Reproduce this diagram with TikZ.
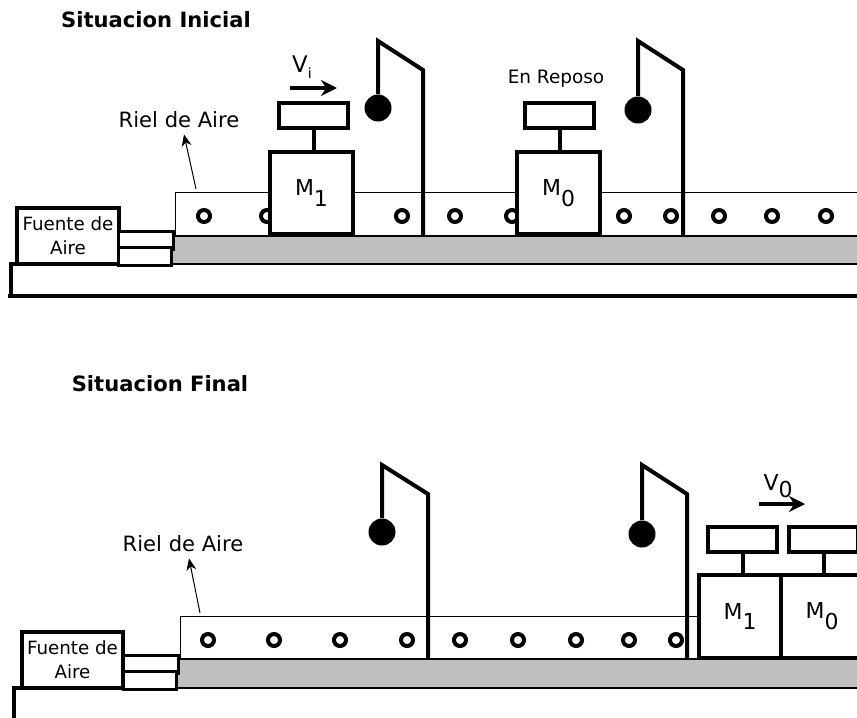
\documentclass[tikz,border=0pt]{standalone}
\usepackage{fontspec}
\setmainfont{DejaVu Sans}
\usetikzlibrary{arrows.meta}
\newcommand{\subdown}[1]{\raisebox{-0.9ex}{#1}}

\begin{document}
\begin{tikzpicture}[
    x=0.02cm, y=-0.02cm,
    thick line/.style={line width=0.08cm},
    masa/.style={rectangle, draw, fill=white, line width=0.08cm, minimum width=1.66cm, minimum height=1.66cm, inner sep=0pt, font=\fontsize{12.5}{14}\selectfont},
    soporte/.style={rectangle, draw, fill=white, line width=0.08cm, minimum width=1.38cm, minimum height=0.5cm, inner sep=0pt},
    fuente/.style={rectangle, draw, fill=white, line width=0.08cm, minimum width=2.04cm, minimum height=1.12cm, inner sep=0pt, align=center, font=\fontsize{10.4}{13.5}\selectfont},
    tubo/.style={rectangle, draw, fill=white, line width=0.06cm, minimum width=1.1cm, minimum height=0.36cm, inner sep=0pt},
    bola/.style={circle, fill=black, minimum size=0.54cm, inner sep=0pt},
    agujero/.style={circle, draw, fill=white, line width=0.08cm, minimum size=0.24cm, inner sep=0pt},
    etiqueta/.style={font=\fontsize{12}{13}\selectfont},
    titulo/.style={font=\bfseries\fontsize{12}{13}\selectfont},
    flecha/.style={-{Stealth[length=0.32cm,width=0.32cm]}, line width=0.07cm},
    flechita/.style={-{Stealth[length=0.24cm,width=0.2cm]}, line width=0.02cm},
]
\clip (0,0) rectangle (857,717);

% situacion inicial
\node[titulo] (tituloA) at (156,20) {Situacion Inicial};
\fill[black!25] (172,236) rectangle (870,264);
\draw[line width=0.02cm] (175,236) -- (175,192) -- (870,192);
\draw[line width=0.04cm] (172,264) -- (870,264);
\draw[line width=0.05cm] (172,236) -- (870,236);
\draw[line width=0.07cm] (92,264) -- (172,264);
\draw[line width=0.08cm] (11,296) -- (11,264) -- (92,264);
\draw[line width=0.07cm] (8,296) -- (870,296);
\foreach \x in {204,267,402,455,512,624,671,719,772,826} {
    \node[agujero] at (\x,216) {};
}
\node[fuente] (fuenteA) at (68,236) {Fuente de\\Aire};
\node[tubo] (tuboA1) at (146,240) {};
\node[tubo, minimum width=1.06cm] (tuboA2) at (145,256) {};
\node[masa] (m1A) at (311.5,193) {\raisebox{0.8ex}{M\subdown{1}}};
\node[soporte] (sopA1) at (313.5,115.5) {};
\draw[thick line] (sopA1.south) -- (sopA1.south |- m1A.north);
\node[masa] (m0A) at (558.5,193) {\raisebox{0.8ex}{M\subdown{0}}};
\node[soporte] (sopA0) at (559.5,115.5) {};
\draw[thick line] (sopA0.south) -- (sopA0.south |- m0A.north);
\node[bola] (bolaA1) at (378,108) {};
\coordinate (topA1) at (378,41);
\coordinate (codoA1) at (423,70);
\coordinate (pieA1) at (423,236);
\draw[thick line] (bolaA1) -- (topA1) -- (codoA1) -- (pieA1);
\node[bola] (bolaA2) at (638,110) {};
\coordinate (topA2) at (638,41);
\coordinate (codoA2) at (683,70);
\coordinate (pieA2) at (683,236);
\draw[thick line] (bolaA2) -- (topA2) -- (codoA2) -- (pieA2);
\node[etiqueta] (rielA) at (179,120) {Riel de Aire};
\coordinate (rielA1) at (196,189);
\draw[flechita] (rielA1) -- (rielA.south -| 184,0);
\node[font=\fontsize{13}{14}\selectfont] (viA) at (302,67) {V\raisebox{-0.5ex}{\footnotesize i}};
\coordinate (viA1) at (290,88);
\coordinate (viA2) at (337,88);
\draw[flecha] (viA1) -- (viA2);
\node[font=\fontsize{10.5}{12}\selectfont] (reposoA) at (556,79) {En Reposo};

% situacion final
\node[titulo] (tituloB) at (160,384) {Situacion Final};
\fill[black!25] (177,659) rectangle (870,688);
\draw[line width=0.02cm] (180,659) -- (180,616) -- (700,616);
\draw[line width=0.04cm] (177,688) -- (870,688);
\draw[line width=0.05cm] (177,659) -- (870,659);
\draw[line width=0.07cm] (97,688) -- (177,688);
\draw[line width=0.08cm] (14,730) -- (14,688) -- (97,688);
\foreach \x in {208,274,340,407,460,518,576,629,676} {
    \node[agujero] at (\x,640) {};
}
\node[fuente] (fuenteB) at (72.5,659.5) {Fuente de\\Aire};
\node[tubo] (tuboB1) at (151,664) {};
\node[tubo, minimum width=1.06cm] (tuboB2) at (150,680) {};
\node[masa] (m1B) at (740,616.5) {\raisebox{0.3ex}{M\subdown{1}}};
\node[soporte] (sopB1) at (742.5,539.5) {};
\draw[thick line] (sopB1.south) -- (sopB1.south |- m1B.north);
\node[masa] (m0B) at (822,616.5) {\raisebox{0.3ex}{M\subdown{0}}};
\node[soporte] (sopB0) at (823.5,539.5) {};
\draw[thick line] (sopB0.south) -- (sopB0.south |- m0B.north);
\node[bola] (bolaB1) at (382,532) {};
\coordinate (topB1) at (382,465);
\coordinate (codoB1) at (428,494);
\coordinate (pieB1) at (428,659);
\draw[thick line] (bolaB1) -- (topB1) -- (codoB1) -- (pieB1);
\node[bola] (bolaB2) at (642,534) {};
\coordinate (topB2) at (642,465);
\coordinate (codoB2) at (687,494);
\coordinate (pieB2) at (687,659);
\draw[thick line] (bolaB2) -- (topB2) -- (codoB2) -- (pieB2);
\node[etiqueta] (rielB) at (183,544) {Riel de Aire};
\coordinate (rielB1) at (200,613);
\draw[flechita] (rielB1) -- (rielB.south -| 189,0);
\coordinate (voB1) at (759,504);
\coordinate (voB2) at (805,504);
\draw[flecha] (voB1) -- (voB2);
\node[font=\fontsize{12.5}{14}\selectfont] (voB) at (778,486) {V\raisebox{-0.6ex}{0}};
\end{tikzpicture}
\end{document}
